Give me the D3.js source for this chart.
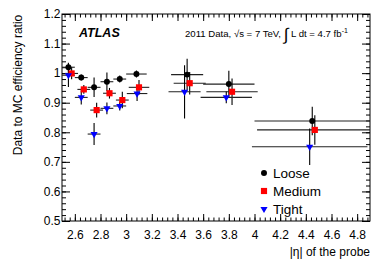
<!DOCTYPE html>
<html>
<head>
<meta charset="utf-8">
<script src="https://cdn.jsdelivr.net/npm/d3@7"></script>
<style>
  body { margin: 0; background: #fff; }
  svg { font-family: "Liberation Sans", Arial, sans-serif; }
</style>
</head>
<body>
<div id="viz"></div>
<script>
// eta bins of the probe (crack 3.16-3.35 not shown)
var binLo = [2.5, 2.6, 2.7, 2.8, 2.9, 3.0, 3.35, 3.6, 4.0];
var binHi = [2.6, 2.7, 2.8, 2.9, 3.0, 3.16, 3.6, 4.0, 4.9];

// data / MC ratio per menu, with stat errors
var looseVal  = [1.020, 0.985, 0.952, 0.971, 0.980, 0.997, 0.995, 0.963, 0.838];
var looseErr  = [0.015, 0.010, 0.033, 0.031, 0.012, 0.012, 0.054, 0.045, 0.048];
var mediumVal = [0.999, 0.945, 0.875, 0.932, 0.909, 0.952, 0.966, 0.937, 0.808];
var mediumErr = [0.020, 0.015, 0.025, 0.018, 0.028, 0.025, 0.038, 0.045, 0.050];
var tightVal  = [0.993, 0.918, 0.794, 0.881, 0.889, 0.931, 0.937, 0.918, 0.751];
var tightErr  = [0.040, 0.024, 0.037, 0.020, 0.015, 0.025, 0.090, 0.020, 0.062];

// small x offsets of the points so they don't overlap
var mediumShift = [0.025, 0.02, 0.02, 0.02, 0.02, 0.02, 0.02, 0.025, 0.02];
var tightShift  = [0, 0, 0, 0, 0, 0.005, -0.02, -0.02, -0.02];
var looseShift  = [0, 0, 0, 0, 0, 0, 0, 0, 0];

var xTicks = [2.6, 2.8, 3.0, 3.2, 3.4, 3.6, 3.8, 4.0, 4.2, 4.4, 4.6, 4.8];
var yTicks = [0.5, 0.6, 0.7, 0.8, 0.9, 1.0, 1.1, 1.2];
var seriesNames = ['Loose', 'Medium', 'Tight'];

var width = 390, height = 265;
// note: "top" is reserved on window, so use a margin object
var frame = { left: 62, right: 370, top: 14, bottom: 221 };

var x = d3.scaleLinear().domain([2.5, 4.9]).range([frame.left, frame.right]);
var y = d3.scaleLinear().domain([0.5, 1.2]).range([frame.bottom, frame.top]);

var svg = d3.select('#viz').append('svg')
  .attr('width', width)
  .attr('height', height);

svg.append('clipPath').attr('id', 'frame')
  .append('rect')
  .attr('x', frame.left).attr('y', frame.top)
  .attr('width', frame.right - frame.left).attr('height', frame.bottom - frame.top);

// axes, ROOT style ticks pointing inward
var fmt = function(d) { return String(+d.toFixed(1)); };
var xMinor = d3.range(-2, 58).map(function(k) { return 2.6 + 0.04 * k; });
var yMinor = d3.range(1, 35).map(function(k) { return 0.5 + 0.02 * k; });

function styleAxis(g) {
  g.select('.domain').remove();
  g.selectAll('line').attr('stroke', '#000');
  g.selectAll('text').attr('fill', '#000').style('font-size', '12px');
}

svg.append('g').attr('transform', 'translate(0,' + frame.bottom + ')')
  .call(d3.axisBottom(x).tickValues(xMinor).tickSize(-3.5).tickFormat(''))
  .call(styleAxis);
svg.append('g').attr('transform', 'translate(0,' + frame.bottom + ')')
  .call(d3.axisBottom(x).tickValues(xTicks).tickSize(-7).tickPadding(9).tickFormat(fmt))
  .call(styleAxis);
svg.append('g').attr('transform', 'translate(0,' + frame.top + ')')
  .call(d3.axisTop(x).tickValues(xMinor).tickSize(-3.5).tickFormat(''))
  .call(styleAxis);
svg.append('g').attr('transform', 'translate(0,' + frame.top + ')')
  .call(d3.axisTop(x).tickValues(xTicks).tickSize(-7).tickFormat(''))
  .call(styleAxis);

svg.append('g').attr('transform', 'translate(' + frame.left + ',0)')
  .call(d3.axisLeft(y).tickValues(yMinor).tickSize(-4).tickFormat(''))
  .call(styleAxis);
svg.append('g').attr('transform', 'translate(' + frame.left + ',0)')
  .call(d3.axisLeft(y).tickValues(yTicks).tickSize(-8).tickPadding(1.5).tickFormat(fmt))
  .call(styleAxis);
svg.append('g').attr('transform', 'translate(' + frame.right + ',0)')
  .call(d3.axisRight(y).tickValues(yMinor).tickSize(-4).tickFormat(''))
  .call(styleAxis);
svg.append('g').attr('transform', 'translate(' + frame.right + ',0)')
  .call(d3.axisRight(y).tickValues(yTicks).tickSize(-8).tickFormat(''))
  .call(styleAxis);

svg.append('rect')
  .attr('x', frame.left).attr('y', frame.top)
  .attr('width', frame.right - frame.left).attr('height', frame.bottom - frame.top)
  .attr('fill', 'none').attr('stroke', '#000').attr('stroke-width', 1);

// error bars + markers
var series = [
  { name: 'Loose',  val: looseVal,  err: looseErr,  shift: looseShift,  color: '#000', shape: d3.symbolCircle,   size: 28 },
  { name: 'Medium', val: mediumVal, err: mediumErr, shift: mediumShift, color: '#f00', shape: d3.symbolSquare,   size: 38 },
  { name: 'Tight',  val: tightVal,  err: tightErr,  shift: tightShift,  color: '#00f', shape: d3.symbolTriangle, size: 22 }
];

var plot = svg.append('g').attr('clip-path', 'url(#frame)');

series.forEach(function(s) {
  var pts = binLo.map(function(lo, i) {
    return { lo: lo + s.shift[i], hi: binHi[i] + s.shift[i],
             c: (lo + binHi[i]) / 2 + s.shift[i], v: s.val[i], e: s.err[i] };
  });
  var g = plot.append('g');
  g.selectAll('.hbar').data(pts).enter().append('line')
    .attr('x1', function(d) { return x(d.lo); })
    .attr('x2', function(d) { return x(d.hi); })
    .attr('y1', function(d) { return y(d.v); })
    .attr('y2', function(d) { return y(d.v); })
    .attr('stroke', '#222').attr('stroke-width', 1.1);
  g.selectAll('.vbar').data(pts).enter().append('line')
    .attr('x1', function(d) { return x(d.c); })
    .attr('x2', function(d) { return x(d.c); })
    .attr('y1', function(d) { return y(d.v - d.e); })
    .attr('y2', function(d) { return y(d.v + d.e); })
    .attr('stroke', '#000').attr('stroke-width', 1.1);
  s.pts = pts;
});

series.forEach(function(s) {
  plot.append('g').selectAll('path').data(s.pts).enter().append('path')
    .attr('d', d3.symbol().type(s.shape).size(s.size))
    .attr('transform', function(d) {
      return 'translate(' + x(d.c) + ',' + y(d.v) + ')' + (s.name === 'Tight' ? ' rotate(180)' : '');
    })
    .attr('fill', s.color);
});

// legend
var legend = svg.append('g');
series.forEach(function(s, i) {
  var ly = 173 + i * 18;
  legend.append('path')
    .attr('d', d3.symbol().type(s.shape).size(s.size))
    .attr('transform', 'translate(264,' + ly + ')' + (s.name === 'Tight' ? ' rotate(180)' : ''))
    .attr('fill', s.color);
  legend.append('text')
    .attr('x', 273).attr('y', ly + 5)
    .style('font-size', '13.5px')
    .text(seriesNames[i]);
});

// labels
svg.append('text')
  .attr('x', 79).attr('y', 37)
  .style('font-size', '12.5px').style('font-weight', 'bold').style('font-style', 'italic')
  .text('ATLAS');

var info = svg.append('text').attr('x', 185).attr('y', 37).style('font-size', '9.6px');
info.append('tspan').text('2011 Data, √s = 7 TeV, ');
info.append('tspan').style('font-size', '17px').attr('dy', 3).text('∫');
info.append('tspan').attr('dy', -3).text(' L dt = 4.7 fb');
info.append('tspan').style('font-size', '7px').attr('dy', -4).text('-1');

svg.append('text')
  .attr('text-anchor', 'end')
  .attr('x', frame.right).attr('y', 256)
  .style('font-size', '12px')
  .text('|η| of the probe');

svg.append('text')
  .attr('text-anchor', 'middle')
  .attr('transform', 'translate(22,85) rotate(-90)')
  .style('font-size', '12px')
  .text('Data to MC efficiency ratio');
</script>
</body>
</html>
